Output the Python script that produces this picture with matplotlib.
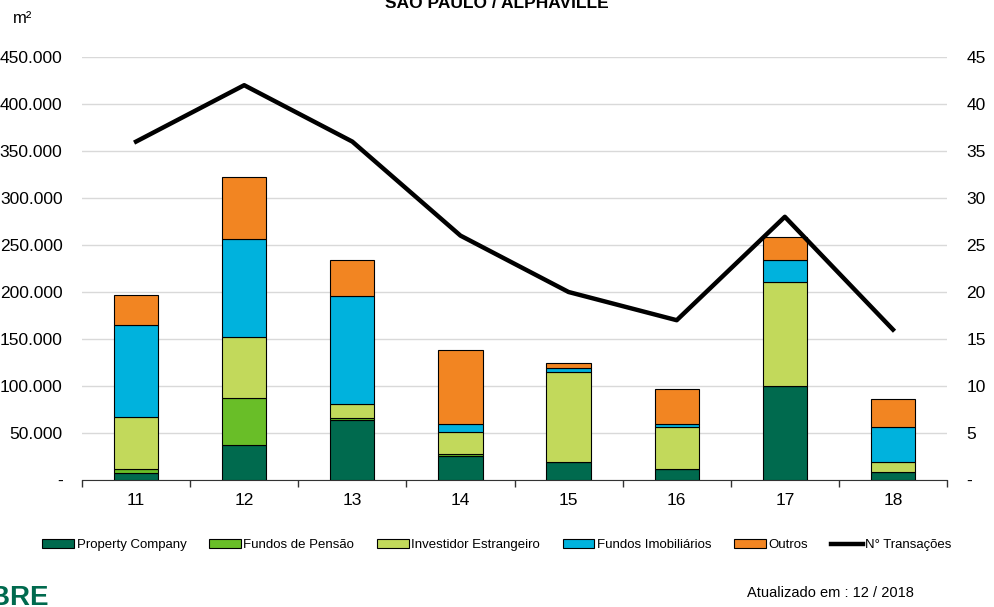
import numpy as np
import matplotlib
matplotlib.use("Agg")
import matplotlib.pyplot as plt
from matplotlib.ticker import FuncFormatter, FixedLocator
from matplotlib.patches import Patch
from matplotlib.lines import Line2D

plt.rcParams['font.family'] = ['Liberation Sans', 'DejaVu Sans']

anos = ['11', '12', '13', '14', '15', '16', '17', '18']
property_company = [7100, 37300, 63900, 25200, 18800, 11700, 99500, 8200]
fundos_pensao = [4600, 50400, 1800, 2200, 0, 0, 0, 0]
investidor_estrangeiro = [55100, 64300, 14900, 23400, 95900, 44400, 111100, 11300]
fundos_imobiliarios = [98400, 104000, 115100, 8500, 4300, 3600, 23400, 36600]
outros = [31600, 66000, 38300, 78900, 5300, 36600, 24500, 29900]
transacoes = [36, 42, 36, 26, 20, 17, 28, 16]

series = [
    ('Property Company', property_company, '#006A4E'),
    ('Fundos de Pensão', fundos_pensao, '#69BE28'),
    ('Investidor Estrangeiro', investidor_estrangeiro, '#C2D95B'),
    ('Fundos Imobiliários', fundos_imobiliarios, '#00B2DD'),
    ('Outros', outros, '#F28522'),
]

fig = plt.figure(figsize=(9.95, 6.07), dpi=100)
ax = fig.add_axes([0.0824, 0.2092, 0.8694, 0.6969])
ax2 = ax.twinx()

x = np.arange(len(anos))
base = np.zeros(len(anos))
for nome, vals, cor in series:
    ax.bar(x, vals, width=0.41, bottom=base, color=cor, edgecolor='black',
           linewidth=0.8, zorder=3)
    base += np.array(vals)

ax2.plot(x, transacoes, color='black', linewidth=3.2, zorder=4)

ax.set_xlim(-0.5, len(anos) - 0.5)
ax.set_ylim(0, 450000)
ax2.set_ylim(0, 45)
ax.set_yticks(np.arange(0, 450001, 50000))
ax2.set_yticks(np.arange(0, 46, 5))


def fmt_m2(v, pos):
    if v == 0:
        return '-'
    return f'{int(v):,}'.replace(',', '.')


def fmt_n(v, pos):
    if v == 0:
        return '-'
    return f'{int(v)}'


ax.yaxis.set_major_formatter(FuncFormatter(fmt_m2))
ax2.yaxis.set_major_formatter(FuncFormatter(fmt_n))
ax.grid(axis='y', color='#d9d9d9', linewidth=1, zorder=0)
ax.set_axisbelow(True)

ax.set_xticks(x)
ax.set_xticklabels(anos)
ax.xaxis.set_minor_locator(FixedLocator(np.arange(-0.5, len(anos), 1)))
ax.tick_params(axis='x', which='major', length=0, labelsize=12.5, pad=9)
ax.tick_params(axis='x', which='minor', length=5, width=1, color='#333333')
ax.tick_params(axis='y', length=0, labelsize=12.5, pad=14)
ax2.tick_params(axis='y', length=0, labelsize=12.5, pad=14)

for a in (ax, ax2):
    for s in ('top', 'left', 'right'):
        a.spines[s].set_visible(False)
    a.spines['bottom'].set_color('#333333')
ax2.spines['bottom'].set_visible(False)

fig.text(0.499, 1 - 8 / 607, 'SÃO PAULO / ALPHAVILLE', ha='center', va='baseline',
         fontsize=12.5, fontweight='bold')
fig.text(0.013, 0.970, 'm²', ha='left', va='center', fontsize=12)

handles = [Patch(facecolor=c, edgecolor='black', linewidth=0.8) for _, _, c in series]
handles.append(Line2D([0], [0], color='black', linewidth=3.2))
labels = [n for n, _, _ in series] + ['N° Transações']
fig.legend(handles, labels, loc='center', bbox_to_anchor=(0.4995, 0.102), ncol=6,
           frameon=False, fontsize=9.5, handlelength=2.4, handleheight=0.6,
           handletextpad=0.2, columnspacing=1.72)

fig.text(0.05, 1 - 605 / 607, 'CBRE', ha='right', va='baseline', fontsize=20,
         fontweight='bold', color='#006A4E')
fig.text(0.7505, 0.023, 'Atualizado em : 12 / 2018', ha='left', va='center',
         fontsize=10.5)

fig.savefig('out.png', dpi=100)
